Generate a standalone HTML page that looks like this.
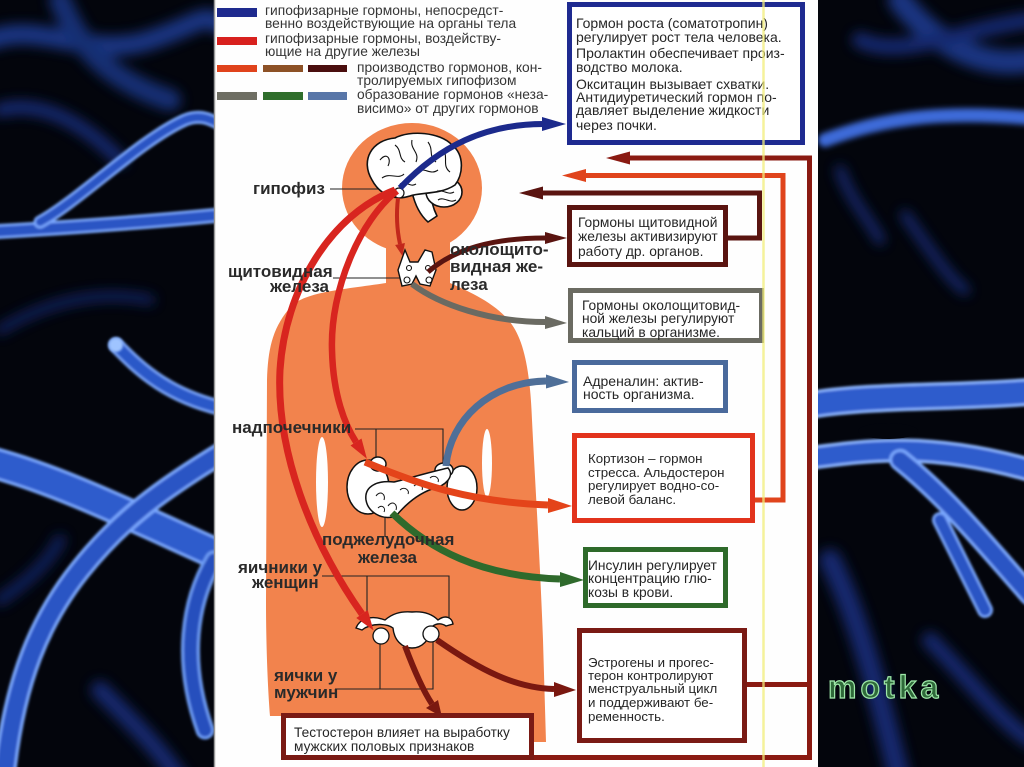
<!DOCTYPE html>
<html><head><meta charset="utf-8"><style>
html,body{margin:0;padding:0;background:#03050c;}
svg{display:block;}
text{font-family:"Liberation Sans",Arial,sans-serif;}
</style></head><body>
<svg width="1024" height="767" viewBox="0 0 1024 767" xmlns="http://www.w3.org/2000/svg">
<defs>
<filter id="b6" x="-50%" y="-50%" width="200%" height="200%"><feGaussianBlur stdDeviation="6"/></filter>
<filter id="b3" x="-50%" y="-50%" width="200%" height="200%"><feGaussianBlur stdDeviation="3"/></filter>
<filter id="b1" x="-20%" y="-20%" width="140%" height="140%"><feGaussianBlur stdDeviation="1.2"/></filter>
<clipPath id="cl"><rect x="0" y="0" width="214" height="767"/></clipPath>
<clipPath id="cr"><rect x="818" y="0" width="206" height="767"/></clipPath>
</defs>
<rect x="0" y="0" width="1024" height="767" fill="#03050c"/>

<!-- LEFT neuron background -->
<g clip-path="url(#cl)" fill="none" stroke-linecap="round">
 <g filter="url(#b6)" opacity="0.75">
  <path d="M-10,40 C40,20 90,60 150,40 S200,10 230,30" stroke="#2145a8" stroke-width="20"/>
  <path d="M60,0 C80,50 110,80 170,100" stroke="#1d3c96" stroke-width="22"/>
  <path d="M0,110 C40,100 80,120 120,160" stroke="#1a3690" stroke-width="14"/>
  <path d="M0,330 C50,300 100,290 150,300" stroke="#142c78" stroke-width="10"/>
  <path d="M100,690 C140,730 160,750 180,780" stroke="#1a3690" stroke-width="18"/>
  <path d="M0,600 C30,580 50,560 60,540" stroke="#142c78" stroke-width="12"/>
 </g>
 <g filter="url(#b1)">
  <path d="M-10,232 C60,228 150,222 230,214" stroke="#7aa8ff" stroke-width="15"/>
  <path d="M-10,232 C60,228 150,222 230,214" stroke="#2a54c4" stroke-width="10"/>
  <path d="M40,222 C80,200 140,140 185,120 C200,114 210,118 230,130" stroke="#7aa8ff" stroke-width="13"/>
  <path d="M40,222 C80,200 140,140 185,120 C200,114 210,118 230,130" stroke="#2a54c4" stroke-width="8"/>
  <path d="M116,345 C140,370 170,398 230,410" stroke="#7aa8ff" stroke-width="16"/>
  <path d="M116,345 C140,370 170,398 230,410" stroke="#2b58c8" stroke-width="11"/>
  <path d="M-10,462 C60,480 140,520 230,560" stroke="#7aa8ff" stroke-width="32"/>
  <path d="M-10,462 C60,480 140,520 230,560" stroke="#2d5bcc" stroke-width="26"/>
  <path d="M230,448 C160,490 120,520 80,570 C40,620 15,680 5,770" stroke="#7aa8ff" stroke-width="23"/>
  <path d="M230,448 C160,490 120,520 80,570 C40,620 15,680 5,770" stroke="#2a54c4" stroke-width="17"/>
  <path d="M214,560 C190,600 180,660 205,730" stroke="#6d9cf5" stroke-width="19"/>
  <path d="M214,560 C190,600 180,660 205,730" stroke="#2850bd" stroke-width="13"/>
 </g>
 <circle cx="116" cy="345" r="7" fill="#9fc4ff" filter="url(#b1)"/>
</g>

<!-- RIGHT neuron background -->
<g clip-path="url(#cr)" fill="none" stroke-linecap="round">
 <g filter="url(#b6)" opacity="0.75">
  <path d="M900,0 C930,40 980,70 1030,60" stroke="#2145a8" stroke-width="24"/>
  <path d="M860,40 C900,60 960,30 1030,20" stroke="#1a3690" stroke-width="16"/>
  <path d="M840,170 C850,200 870,220 880,240" stroke="#1a3690" stroke-width="10"/>
  <path d="M905,215 C930,250 950,280 965,290" stroke="#1a3690" stroke-width="10"/>
  <path d="M830,560 C860,620 880,700 900,780" stroke="#1a3690" stroke-width="22"/>
  <path d="M930,640 C970,680 1000,720 1030,740" stroke="#1a3690" stroke-width="16"/>
 </g>
 <g filter="url(#b3)">
  <path d="M825,140 C880,120 930,110 1030,118" stroke="#3d6ad8" stroke-width="14"/>
 </g>
 <g filter="url(#b1)">
  <path d="M810,405 C870,395 950,398 1030,392" stroke="#8ab4ff" stroke-width="28"/>
  <path d="M810,405 C870,395 950,398 1030,392" stroke="#2d5bcc" stroke-width="22"/>
  <path d="M810,458 C870,450 930,442 1030,470" stroke="#8ab4ff" stroke-width="24"/>
  <path d="M810,458 C870,450 930,442 1030,470" stroke="#2d5bcc" stroke-width="18"/>
  <path d="M900,460 C950,500 990,550 1030,595" stroke="#7aa8ff" stroke-width="22"/>
  <path d="M900,460 C950,500 990,550 1030,595" stroke="#2a54c4" stroke-width="16"/>
  <path d="M940,520 C960,560 975,590 985,610" stroke="#7aa8ff" stroke-width="16"/>
  <path d="M940,520 C960,560 975,590 985,610" stroke="#2a54c4" stroke-width="11"/>
 </g>
 <ellipse cx="888" cy="431" rx="30" ry="8" fill="#03050c"/>
 <text x="828" y="698" font-size="32" font-weight="bold" letter-spacing="4" fill="#2f6a3a" stroke="#9ee8a8" stroke-width="1.2">motka</text>
</g>

<!-- white panel -->
<rect x="214" y="0" width="604" height="767" fill="#fefefe"/>
<line x1="214.5" y1="0" x2="214.5" y2="767" stroke="#9a9a9a" stroke-width="1.5"/>

<!-- legend -->
<rect x="217" y="8" width="40" height="9" fill="#1e2a8e"/>
<rect x="217" y="37" width="40" height="8" fill="#d8211e"/>
<rect x="217" y="65" width="40" height="7" fill="#e0431c"/>
<rect x="263" y="65" width="40" height="7" fill="#8d5126"/>
<rect x="308" y="65" width="39" height="7" fill="#4a0e0e"/>
<rect x="217" y="92" width="40" height="8" fill="#6e6e63"/>
<rect x="263" y="92" width="40" height="8" fill="#2f6e2c"/>
<rect x="308" y="92" width="39" height="8" fill="#5876a8"/>
<g font-size="13.8" fill="#363636">
 <text x="265" y="15">гипофизарные гормоны, непосредст-</text>
 <text x="265" y="28">венно воздействующие на органы тела</text>
 <text x="265" y="43">гипофизарные гормоны, воздейству-</text>
 <text x="265" y="56">ющие на другие железы</text>
 <text x="357" y="72">производство гормонов, кон-</text>
 <text x="357" y="85">тролируемых гипофизом</text>
 <text x="357" y="99">образование гормонов «неза-</text>
 <text x="357" y="113">висимо» от других гормонов</text>
</g>

<!-- body silhouette -->
<g fill="#f2834d">
 <ellipse cx="412" cy="188" rx="70" ry="65"/>
 <rect x="386" y="228" width="64" height="70"/>
 <path d="M386,283 C340,290 300,292 288,310 C272,330 268,350 267,380 L266,600 C266,650 268,690 270,716 L282,716 L282,742 L546,742 L543,640 C540,560 535,480 532,420 C530,370 524,340 510,322 C495,303 470,292 450,283 Z"/>
</g>
<ellipse cx="322" cy="482" rx="6" ry="45" fill="#fefefe"/>
<ellipse cx="487" cy="463" rx="5" ry="34" fill="#fefefe"/>

<!-- label lines -->
<g stroke="#222" stroke-width="1.1" fill="none">
 <line x1="330" y1="189" x2="402" y2="189"/>
 <line x1="333" y1="278" x2="405" y2="278"/>
 <polyline points="355,429 443,429 443,467"/>
 <line x1="376" y1="429" x2="376" y2="460"/>
 <line x1="385" y1="513" x2="385" y2="537"/>
 <polyline points="322,576 449,576 449,618"/>
 <line x1="367" y1="576" x2="367" y2="618"/>
 <polyline points="335,689 433,689 433,636"/>
 <line x1="380" y1="689" x2="380" y2="638"/>
</g>

<!-- brain -->
<g stroke="#111" stroke-width="1.6" fill="#fff" stroke-linejoin="round">
 <path d="M412,192 C415,205 420,215 428,222 L437,216 C433,208 431,200 431,192 Z"/>
 <ellipse cx="444" cy="192" rx="18" ry="15"/>
 <path d="M372,180 C360,160 372,140 395,138 C410,130 440,132 452,145 C465,155 463,175 455,185 C440,195 420,192 410,196 C395,201 380,195 372,180 Z"/>
</g>
<g stroke="#111" stroke-width="1.1" fill="none">
 <path d="M380,160 C386,152 392,158 388,166 M395,145 C402,150 398,158 405,162 M412,140 C410,150 420,152 416,162 M428,142 C434,150 428,156 436,162 M444,150 C448,158 442,166 450,172 M382,178 C390,172 398,180 404,174 M418,172 C424,166 430,176 438,170 M400,184 C406,180 410,188 416,184"/>
 <path d="M436,192 C442,188 448,196 454,192 M438,200 C444,196 450,204 456,200"/>
</g>
<circle cx="399" cy="193" r="5" fill="#fff" stroke="#111" stroke-width="1.2"/>

<!-- thyroid -->
<path d="M405,250 L410,262 L418,262 L425,250 L432,252 L436,270 L430,286 L420,284 L416,276 L412,284 L402,286 L398,270 Z" fill="#fff" stroke="#111" stroke-width="1.4"/>
<g fill="none" stroke="#111" stroke-width="1.1">
 <circle cx="407" cy="280" r="3"/><circle cx="429" cy="280" r="3"/>
 <circle cx="409" cy="268" r="2.5"/><circle cx="428" cy="268" r="2.5"/>
</g>

<!-- kidneys / adrenals / pancreas -->
<g fill="#fff" stroke="#111" stroke-width="1.5">
 <ellipse cx="368" cy="487" rx="21" ry="27"/>
 <ellipse cx="462" cy="488" rx="15" ry="22"/>
 <ellipse cx="378" cy="464" rx="8" ry="7"/>
 <ellipse cx="444" cy="470" rx="9" ry="7"/>
 <path d="M366,500 C364,486 378,480 394,482 C410,478 430,472 448,468 C455,476 446,486 432,489 C418,494 406,504 396,516 C382,521 368,512 366,500 Z"/>
</g>
<g fill="none" stroke="#111" stroke-width="1">
 <path d="M376,496 C380,490 386,494 384,500 M388,506 C392,500 398,504 396,510 M400,490 C404,486 410,490 408,494 M414,486 C418,482 424,486 422,490 M430,478 C434,474 440,478 438,482 M378,508 C382,504 386,508 384,512"/>
</g>

<!-- uterus / ovaries -->
<path d="M356,628 C360,618 372,615 385,620 C392,614 400,611 412,612 C424,611 432,614 438,620 C446,614 452,618 453,624 L446,626 C440,622 434,624 431,628 C430,640 422,648 412,648 C402,648 394,640 393,628 C388,624 372,622 362,630 Z" fill="#fff" stroke="#111" stroke-width="1.4"/>
<circle cx="381" cy="636" r="8" fill="#fff" stroke="#111" stroke-width="1.3"/>
<circle cx="431" cy="634" r="8" fill="#fff" stroke="#111" stroke-width="1.3"/>

<!-- hormone arrows -->
<g fill="none" stroke-linecap="butt">
 <path d="M400,188 C440,146 485,124 544,124" stroke="#1c2a8c" stroke-width="6"/>
 <path d="M395,190 C330,215 285,290 280,370 C276,450 310,540 362,614" stroke="#d8251f" stroke-width="7"/>
 <path d="M397,191 C360,220 330,290 332,350 C333,395 345,425 356,442" stroke="#d8251f" stroke-width="6.5"/>
 <path d="M398,198 C396,215 397,230 400,244" stroke="#c2281c" stroke-width="4"/>
 <path d="M365,462 C420,485 470,502 548,505" stroke="#e4441a" stroke-width="7"/>
 <path d="M392,513 C430,550 480,576 560,579" stroke="#2f6a2c" stroke-width="7"/>
 <path d="M446,466 C450,420 490,382 546,381" stroke="#4f6f98" stroke-width="7"/>
 <path d="M412,284 C440,305 490,322 545,322" stroke="#6a6a62" stroke-width="6"/>
 <path d="M428,272 C455,248 495,238 545,238" stroke="#5a1410" stroke-width="5"/>
 <path d="M437,640 C480,670 515,688 554,689" stroke="#7a1810" stroke-width="6"/>
 <path d="M405,646 C414,670 424,692 432,704" stroke="#7a1810" stroke-width="6"/>
</g>
<polygon points="566,124 542,117 542,131" fill="#1c2a8c"/>
<polygon points="373.5,630.4 356.3,618 367.7,610" fill="#d8251f"/>
<polygon points="366.9,458.8 350.5,445.5 361.5,438.5" fill="#d8251f"/>
<polygon points="402.5,256 395.1,245 404.9,243" fill="#c2281c"/>
<polygon points="572,506 548,498 548,513" fill="#e4441a"/>
<polygon points="584,580 560,572 560,587" fill="#2f6a2c"/>
<polygon points="569,382 546,374.5 546,388.5" fill="#4f6f98"/>
<polygon points="567,323 545,316 545,329" fill="#6a6a62"/>
<polygon points="567,238 545,232 545,244" fill="#5a1410"/>
<polygon points="576,690 554,682 554,697" fill="#7a1810"/>
<polygon points="442,717 426,708 438,700" fill="#7a1810"/>

<!-- feedback lines -->
<g fill="none" stroke-width="5">
 <polyline points="626,158 809.5,158 809.5,760" stroke="#8a1a12"/>
 <line x1="745" y1="684.5" x2="812" y2="684.5" stroke="#8a1a12"/>
 <line x1="531" y1="757.5" x2="812" y2="757.5" stroke="#8a1a12"/>
 <polyline points="582,175.5 783,175.5 783,502" stroke="#e0441c"/>
 <line x1="752" y1="500" x2="785.5" y2="500" stroke="#e0441c"/>
 <polyline points="540,193 759.5,193 759.5,238 725,238" stroke="#5a1410"/>
</g>
<polygon points="606,158 630,151.5 630,164.5" fill="#8a1a12"/>
<polygon points="562,175.5 586,169 586,182" fill="#e0441c"/>
<polygon points="519,193 543,186.5 543,199.5" fill="#5a1410"/>

<!-- boxes -->
<g fill="#fff" stroke-width="5">
 <rect x="569.5" y="4.5" width="233" height="138" stroke="#1e2a90"/>
 <rect x="569.5" y="207.5" width="156" height="57" stroke="#5a1410"/>
 <rect x="570.5" y="290.5" width="191" height="50" stroke="#6b6b62"/>
 <rect x="574.5" y="362.5" width="151" height="48" stroke="#4a6a9c"/>
 <rect x="574.5" y="435.5" width="178" height="85" stroke="#e2331c"/>
 <rect x="585.5" y="549.5" width="140" height="56" stroke="#2e6a2a"/>
 <rect x="579.5" y="630.5" width="165" height="110" stroke="#7a1a14"/>
 <rect x="283.5" y="715.5" width="248" height="42" stroke="#7a1a14"/>
</g>

<g font-size="13.8" fill="#262626">
 <text x="576" y="28" font-size="14">Гормон роста (соматотропин)</text>
 <text x="576" y="42" font-size="14">регулирует рост тела человека.</text>
 <text x="576" y="58" font-size="14">Пролактин обеспечивает произ-</text>
 <text x="576" y="72" font-size="14">водство молока.</text>
 <text x="576" y="89" font-size="14">Окситацин вызывает схватки.</text>
 <text x="576" y="102" font-size="14">Антидиуретический гормон по-</text>
 <text x="576" y="115" font-size="14">давляет выделение жидкости</text>
 <text x="576" y="130" font-size="14">через почки.</text>

 <text x="578" y="227">Гормоны щитовидной</text>
 <text x="578" y="241">железы активизируют</text>
 <text x="578" y="256">работу др. органов.</text>

 <text x="582" y="310">Гормоны околощитовид-</text>
 <text x="582" y="323">ной железы регулируют</text>
 <text x="582" y="337">кальций в организме.</text>

 <text x="583" y="386" font-size="14">Адреналин: актив-</text>
 <text x="583" y="399" font-size="14">ность организма.</text>

 <text x="588" y="463" font-size="13.3">Кортизон – гормон</text>
 <text x="588" y="477" font-size="13.3">стресса. Альдостерон</text>
 <text x="588" y="490" font-size="13.3">регулирует водно-со-</text>
 <text x="588" y="504" font-size="13.3">левой баланс.</text>

 <text x="588" y="570">Инсулин регулирует</text>
 <text x="588" y="583">концентрацию глю-</text>
 <text x="588" y="597">козы в крови.</text>

 <text x="588" y="667" font-size="13.3">Эстрогены и прогес-</text>
 <text x="588" y="680" font-size="13.3">терон контролируют</text>
 <text x="588" y="693" font-size="13.3">менструальный цикл</text>
 <text x="588" y="707" font-size="13.3">и поддерживают бе-</text>
 <text x="588" y="721" font-size="13.3">ременность.</text>

 <text x="294" y="737" font-size="13.7">Тестостерон влияет на выработку</text>
 <text x="294" y="751" font-size="13.7">мужских половых признаков</text>
</g>

<!-- body labels -->
<g font-size="17" font-weight="bold" fill="#2a2a2a">
 <text x="253" y="194">гипофиз</text>
 <text x="228" y="277">щитовидная</text>
 <text x="270" y="292">железа</text>
 <text x="450" y="255">околощито-</text>
 <text x="450" y="272">видная же-</text>
 <text x="450" y="290">леза</text>
 <text x="232" y="433">надпочечники</text>
 <text x="322" y="545">поджелудочная</text>
 <text x="358" y="563">железа</text>
 <text x="238" y="573">яичники у</text>
 <text x="252" y="588">женщин</text>
 <text x="274" y="681">яички у</text>
 <text x="274" y="698">мужчин</text>
</g>

<!-- yellow guide line -->
<line x1="763.5" y1="0" x2="763.5" y2="767" stroke="#f2ee7a" stroke-width="2.5" opacity="0.75"/>
</svg>
</body></html>
